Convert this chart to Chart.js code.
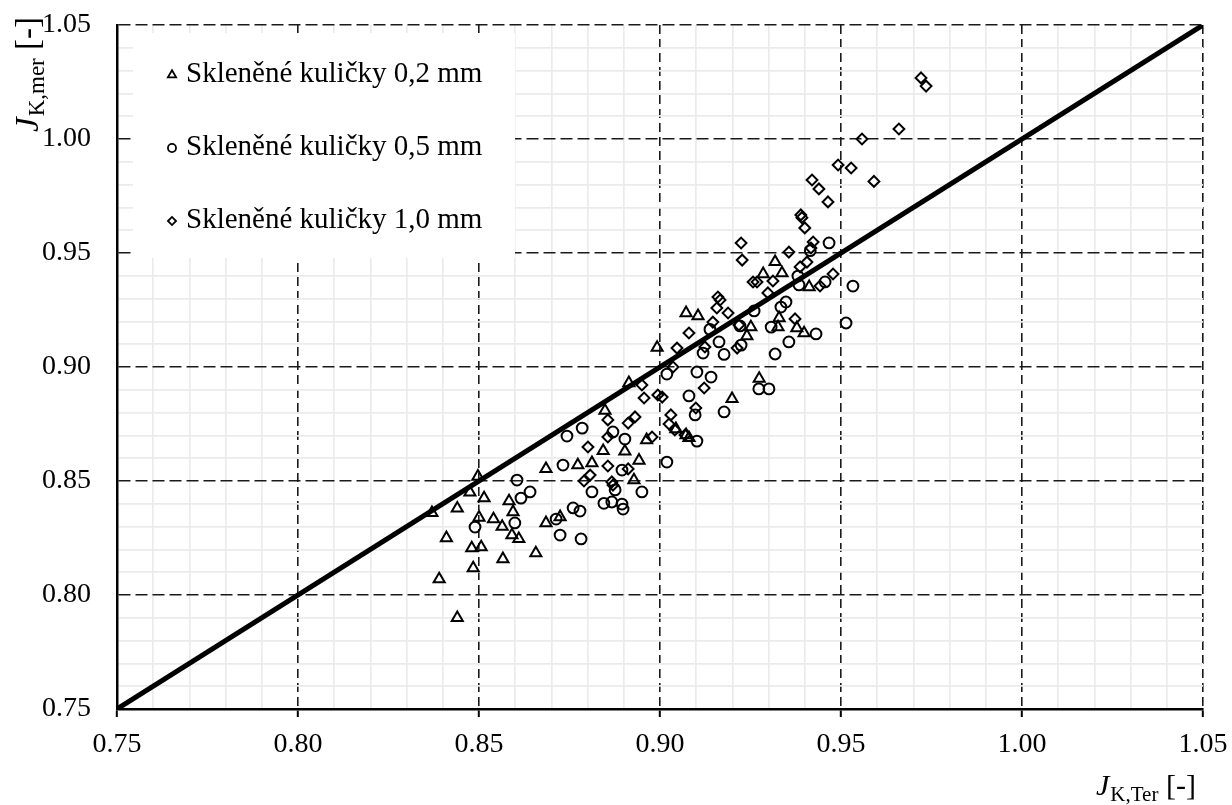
<!DOCTYPE html>
<html>
<head>
<meta charset="utf-8">
<script src="https://cdn.jsdelivr.net/npm/chart.js@4.4.1/dist/chart.umd.min.js"></script>
<style>
  body { margin: 0; background: #fff; }
  #wrap { width: 1232px; height: 805px; }
</style>
</head>
<body>
<div id="wrap"><canvas id="myChart"></canvas></div>
<script>
// series labels
const seriesLabels = ['Skleněné kuličky 0,2 mm', 'Skleněné kuličky 0,5 mm', 'Skleněné kuličky 1,0 mm'];

// 0.2 mm (triangles)
const tri02X = [0.837, 0.839, 0.841, 0.844, 0.844, 0.8475, 0.8497, 0.8514, 0.850, 0.848, 0.8506, 0.8484, 0.854, 0.8564, 0.8583, 0.8594, 0.8591, 0.861, 0.8566, 0.8657, 0.8685, 0.8685, 0.8724, 0.8773, 0.8812, 0.8848, 0.8914, 0.8903, 0.8843, 0.8942, 0.8928, 0.8963, 0.8992, 0.9044, 0.9072, 0.908, 0.9199, 0.9274, 0.9318, 0.9285, 0.9337, 0.9412, 0.9251, 0.9326, 0.9329, 0.9378, 0.9398, 0.924, 0.9072, 0.9105];
const tri02Y = [0.836, 0.807, 0.825, 0.838, 0.790, 0.845, 0.852, 0.8425, 0.834, 0.8206, 0.821, 0.8118, 0.8333, 0.830, 0.8412, 0.8364, 0.8263, 0.8246, 0.8158, 0.8184, 0.8316, 0.8553, 0.8342, 0.857, 0.8579, 0.8809, 0.893, 0.863, 0.8632, 0.859, 0.8504, 0.868, 0.9085, 0.8728, 0.8702, 0.8689, 0.886, 0.8949, 0.9461, 0.9408, 0.9412, 0.9351, 0.9175, 0.9175, 0.9215, 0.9171, 0.9149, 0.9136, 0.9237, 0.9224];

// 0.5 mm (circles)
const cir05X = [0.8605, 0.8616, 0.8641, 0.8489, 0.8599, 0.8732, 0.876, 0.8779, 0.8713, 0.8724, 0.8782, 0.8812, 0.8845, 0.8867, 0.8898, 0.8895, 0.895, 0.8876, 0.8895, 0.9019, 0.887, 0.8903, 0.8743, 0.8785, 0.9102, 0.9019, 0.9102, 0.9141, 0.908, 0.9097, 0.9177, 0.9273, 0.9301, 0.9119, 0.9163, 0.9177, 0.9224, 0.9138, 0.9221, 0.926, 0.9307, 0.9318, 0.9356, 0.9431, 0.9334, 0.9348, 0.9381, 0.9384, 0.9456, 0.9533, 0.9514, 0.9467, 0.9415];
const cir05Y = [0.8504, 0.8425, 0.8452, 0.8298, 0.8316, 0.857, 0.8382, 0.8368, 0.8333, 0.8263, 0.8246, 0.8452, 0.8402, 0.8408, 0.8377, 0.8399, 0.8452, 0.8461, 0.8548, 0.8583, 0.8715, 0.8684, 0.8697, 0.8732, 0.8675, 0.8969, 0.8978, 0.8956, 0.8873, 0.879, 0.8803, 0.8904, 0.8904, 0.9061, 0.911, 0.9055, 0.9096, 0.9165, 0.918, 0.9246, 0.9175, 0.9057, 0.911, 0.9145, 0.9263, 0.9285, 0.9399, 0.936, 0.9373, 0.9355, 0.9193, 0.9544, 0.951];

// 1.0 mm (diamonds)
const dia10X = [0.9721, 0.9735, 0.966, 0.9558, 0.9591, 0.9492, 0.9528, 0.942, 0.9439, 0.9464, 0.9389, 0.9392, 0.94, 0.9356, 0.9423, 0.9417, 0.9406, 0.9387, 0.9478, 0.9442, 0.9373, 0.9224, 0.9227, 0.9257, 0.9268, 0.9312, 0.9298, 0.916, 0.9166, 0.9157, 0.9188, 0.9146, 0.9218, 0.9122, 0.908, 0.9047, 0.9124, 0.9036, 0.9213, 0.895, 0.8956, 0.8994, 0.9006, 0.9099, 0.8931, 0.8912, 0.8856, 0.903, 0.9025, 0.9041, 0.8978, 0.8801, 0.8856, 0.8856, 0.8912, 0.879, 0.8867, 0.887, 0.8807, 0.9069];
const dia10Y = [1.0268, 1.0232, 1.0044, 1.0, 0.9814, 0.9886, 0.9873, 0.982, 0.9781, 0.9724, 0.9667, 0.9655, 0.961, 0.9504, 0.9548, 0.9522, 0.946, 0.9439, 0.9408, 0.9355, 0.9211, 0.9544, 0.9469, 0.9373, 0.9373, 0.9377, 0.9325, 0.9307, 0.9294, 0.9259, 0.9237, 0.9197, 0.9184, 0.8908, 0.9149, 0.9083, 0.9088, 0.900, 0.9083, 0.8921, 0.8864, 0.8877, 0.8868, 0.882, 0.8781, 0.8754, 0.8768, 0.879, 0.875, 0.8724, 0.8693, 0.8649, 0.8693, 0.8566, 0.8553, 0.850, 0.8496, 0.8482, 0.8526, 0.8702];

// y = x reference line
const idealLine = [0.75, 1.05];

// axes
const axisMin = 0.75, axisMax = 1.05, minorStep = 0.01;
const tickLabels = ['0.75', '0.80', '0.85', '0.90', '0.95', '1.00', '1.05'];

const toPoints = (xs, ys) => xs.map((x, i) => ({x: x, y: ys[i]}));
const isMajor = v => tickLabels.includes(v.toFixed(2));
const tickOf = c => c.tick ? c.tick.value : null;
const majorAt = c => tickOf(c) !== null && isMajor(tickOf(c));

const FONT = '"Liberation Serif", "Times New Roman", serif';

function markerSet(label, xs, ys, style, r) {
  return {
    type: 'scatter',
    label: label,
    data: toPoints(xs, ys),
    pointStyle: style,
    pointRadius: r,
    pointHoverRadius: r,
    pointBorderColor: '#000',
    pointBackgroundColor: 'rgba(0,0,0,0)',
    pointBorderWidth: 2,
    order: 1
  };
}

function axisOpts(isX) {
  return {
    type: 'linear',
    min: axisMin,
    max: axisMax,
    afterFit: s => {
      // fixed plot box; labels may overhang into the page margin
      if (isX) { s.height = 96; s.paddingLeft = 0; s.paddingRight = 0; }
      else { s.width = 117; s.paddingTop = 0; s.paddingBottom = 0; }
    },
    ticks: {
      stepSize: minorStep,
      autoSkip: false,
      maxRotation: 0,
      padding: isX ? 11 : 18,
      color: '#000',
      font: {family: FONT, size: 28},
      callback: v => isMajor(v) ? v.toFixed(2) : ''
    },
    grid: {
      color: c => majorAt(c) ? '#1a1a1a' : '#ebebeb',
      lineWidth: c => majorAt(c) ? 1.6 : 1.7,
      tickLength: 8,
      tickWidth: 2,
      tickColor: c => (isX && majorAt(c)) ? '#000' : 'rgba(0,0,0,0)'
    },
    border: {
      display: true,
      color: '#000',
      width: 2.5,
      dash: c => majorAt(c) ? (isX ? [9, 5] : [12, 5]) : []
    }
  };
}

// legend drawn inside the plot, top-left
const legendInside = {
  id: 'legendInside',
  afterDatasetsDraw(chart) {
    const ctx = chart.ctx;
    const a = chart.chartArea;
    ctx.save();
    ctx.fillStyle = '#fff';
    ctx.fillRect(a.left + 16, a.top + 8, 382, 225);
    chart.data.datasets.forEach((ds, i) => {
      if (ds.type !== 'scatter') return;
      const y = a.top + 49 + i * 73;
      ctx.strokeStyle = '#000';
      ctx.fillStyle = 'rgba(0,0,0,0)';
      ctx.lineWidth = 1.8;
      Chart.helpers.drawPoint(ctx, {pointStyle: ds.pointStyle, radius: ds.pointRadius * 0.75, borderWidth: 1.8}, a.left + 55, y + 1);
      ctx.fillStyle = '#000';
      ctx.font = '29px ' + FONT;
      ctx.textBaseline = 'middle';
      ctx.textAlign = 'left';
      ctx.fillText(ds.label, a.left + 69, y);
    });
    ctx.restore();
  }
};

// axis titles with subscripts
function drawTitle(ctx, x, y, main, sub, tail, size, subSize) {
  ctx.font = 'italic ' + size + 'px ' + FONT;
  ctx.fillText(main, x, y);
  let w = ctx.measureText(main).width + 1;
  ctx.font = subSize + 'px ' + FONT;
  ctx.fillText(sub, x + w, y + 6);
  w += ctx.measureText(sub).width;
  ctx.font = size + 'px ' + FONT;
  ctx.fillText(' ' + tail, x + w, y);
}

const axisTitles = {
  id: 'axisTitles',
  afterDraw(chart) {
    const ctx = chart.ctx;
    ctx.save();
    ctx.fillStyle = '#000';
    ctx.textBaseline = 'alphabetic';
    ctx.textAlign = 'left';
    drawTitle(ctx, 1096, 795, 'J', 'K,Ter', '[-]', 30, 21);
    ctx.translate(38, 132);
    ctx.rotate(-Math.PI / 2);
    drawTitle(ctx, 0, 0, 'J', 'K,mer', '[-]', 33, 23);
    ctx.restore();
  }
};

new Chart(document.getElementById('myChart'), {
  type: 'scatter',
  data: {
    datasets: [
      markerSet(seriesLabels[0], tri02X, tri02Y, 'triangle', 6.4),
      markerSet(seriesLabels[1], cir05X, cir05Y, 'circle', 5.4),
      markerSet(seriesLabels[2], dia10X, dia10Y, 'rectRot', 5.4),
      {
        type: 'line',
        label: '',
        data: idealLine.map(v => ({x: v, y: v})),
        borderColor: '#000',
        borderWidth: 5,
        pointRadius: 0,
        fill: false,
        order: 0
      }
    ]
  },
  options: {
    responsive: true,
    maintainAspectRatio: false,
    animation: false,
    layout: {padding: {top: 25, right: 29, left: 0, bottom: 0}},
    plugins: {
      legend: {display: false},
      tooltip: {enabled: false}
    },
    scales: {
      x: axisOpts(true),
      y: axisOpts(false)
    }
  },
  plugins: [legendInside, axisTitles]
});
</script>
</body>
</html>
